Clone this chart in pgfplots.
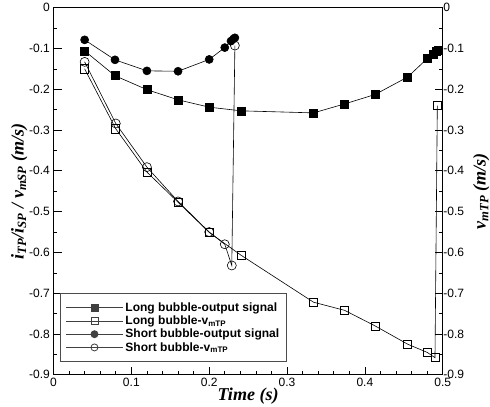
\documentclass[border=0pt]{standalone}
\usepackage{fontspec}
\setmainfont{Liberation Sans}
\newfontfamily\tnr{Liberation Serif}
\usepackage{pgfplots}
\pgfplotsset{compat=1.18}

\pgfplotsset{
  base/.style={
    scale only axis,
    width=388pt, height=366pt,
    xmin=0, xmax=0.5, ymin=-0.9, ymax=0,
    xtick={0,0.1,0.2,0.3,0.4,0.5},
    xticklabels={0,0.1,0.2,0.3,0.4,0.5},
    ytick={-0.9,-0.8,-0.7,-0.6,-0.5,-0.4,-0.3,-0.2,-0.1,0},
    yticklabels={-0.9,-0.8,-0.7,-0.6,-0.5,-0.4,-0.3,-0.2,-0.1,0},
    minor x tick num=4, minor y tick num=1,
    tick align=inside,
    major tick length=8pt, minor tick length=4pt,
    tick style={black, line width=0.8pt},
    minor tick style={black, line width=0.6pt},
    axis line style={line width=1.2pt},
    ticklabel style={font=\fontsize{12}{13}\selectfont},
    label style={font=\tnr\bfseries\itshape\fontsize{18}{20}\selectfont},
  }
}

\begin{document}
\begin{tikzpicture}
\begin{axis}[base,
  xtick pos=bottom, ytick pos=left,
  xlabel={Time (s)},
  ylabel={i\textsubscript{TP}/i\textsubscript{SP} / v\textsubscript{mSP} (m/s)},
  xlabel style={at={(axis description cs:0.5,-0.057)}, anchor=center, inner ysep=3pt},
  ylabel style={at={(axis description cs:-0.088,0.5)}, anchor=center, inner ysep=11pt},
  legend style={at={(0.017,0.035)}, anchor=south west, draw=black!70, line width=0.8pt,
    font=\bfseries\fontsize{12}{14}\selectfont, row sep=-1pt,
    inner xsep=5pt, inner ysep=7pt, cells={anchor=west}},
  legend image code/.code={\draw[mark repeat=2,mark phase=2,black!75,line width=0.8pt,mark size=3.5pt]
    plot coordinates {(0cm,0cm)(1cm,0cm)(2cm,0cm)};},
  every axis plot/.append style={black, line width=0.6pt, mark size=4pt},
]
% long bubble - output signal
\addplot[mark=square*] coordinates {
 (0.04,-0.106) (0.079,-0.167) (0.12,-0.201) (0.16,-0.226) (0.2,-0.244) (0.241,-0.253)
 (0.334,-0.258) (0.374,-0.236) (0.413,-0.213) (0.455,-0.170) (0.48,-0.125)
 (0.488,-0.115) (0.492,-0.108) (0.494,-0.105)};
\addlegendentry{Long bubble-output signal}
% long bubble - v_mTP
\addplot[mark=square, mark options={fill=white}] coordinates {
 (0.04,-0.150) (0.08,-0.297) (0.12,-0.403) (0.16,-0.477) (0.2,-0.551) (0.241,-0.607)
 (0.334,-0.722) (0.374,-0.742) (0.413,-0.780) (0.455,-0.825) (0.48,-0.845)
 (0.49,-0.858) (0.493,-0.240)};
\addlegendentry{Long bubble-v\textsubscript{mTP}}
% short bubble - output signal
\addplot[mark=*] coordinates {
 (0.04,-0.079) (0.079,-0.128) (0.12,-0.155) (0.16,-0.156) (0.2,-0.127)
 (0.22,-0.098) (0.228,-0.082) (0.231,-0.077) (0.233,-0.074)};
\addlegendentry{Short bubble-output signal}
% short bubble - v_mTP
\addplot[mark=o, mark size=4.5pt, mark options={fill=white}] coordinates {
 (0.04,-0.133) (0.08,-0.284) (0.12,-0.391) (0.16,-0.475) (0.2,-0.550)
 (0.22,-0.580) (0.229,-0.632) (0.233,-0.093)};
\addlegendentry{Short bubble-v\textsubscript{mTP}}
\end{axis}
\begin{axis}[base,
  hide x axis,
  axis y line*=right,
  ytick pos=right, yticklabel pos=right,
  yticklabel style={xshift=-3pt},
  ylabel={v\textsubscript{mTP} (m/s)},
  ylabel style={at={(axis description cs:1.099,0.5)}, anchor=center, inner ysep=0.5pt},
]
\end{axis}
\end{tikzpicture}
\end{document}
